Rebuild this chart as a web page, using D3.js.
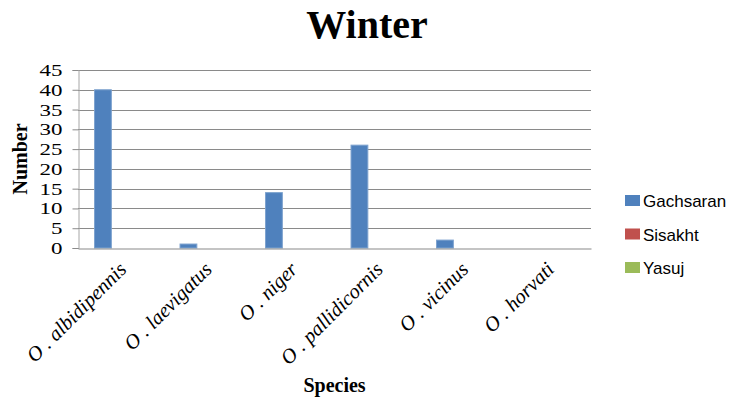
<!DOCTYPE html>
<html>
<head>
<meta charset="utf-8">
<script src="https://cdn.jsdelivr.net/npm/d3@7"></script>
<style>
  html, body { margin: 0; padding: 0; background: #fff; }
  svg { display: block; }
</style>
</head>
<body>
<svg id="chart" width="734" height="399"></svg>
<script>
// Winter counts per species at each site
const species = ["O . albidipennis", "O . laevigatus", "O . niger", "O . pallidicornis", "O . vicinus", "O . horvati"];
const sites = ["Gachsaran", "Sisakht", "Yasuj"];
const gachsaran = [40, 1, 14, 26, 2, 0];
const sisakht = [0, 0, 0, 0, 0, 0];
const yasuj = [0, 0, 0, 0, 0, 0];
const yTicks = [0, 5, 10, 15, 20, 25, 30, 35, 40, 45];
const siteColors = ["#4F81BD", "#C0504D", "#9BBB59"];
const siteStrokes = ["#7DA2CE", "#D27D7A", "#B5CE85"];

const seriesValues = [gachsaran, sisakht, yasuj];
const rows = species.map((s, i) => ({
  species: s,
  values: sites.map((site, j) => ({ site, idx: j, value: seriesValues[j][i] }))
}));

const svg = d3.select("#chart");
const plot = { left: 78, right: 591, top: 70, bottom: 248 };

const x = d3.scaleBand().domain(species).range([plot.left, plot.right]).paddingInner(0).paddingOuter(0);
const xSite = d3.scaleBand().domain(sites).range([0, x.bandwidth()]).paddingInner(0).paddingOuter(0.9);
const y = d3.scaleLinear().domain([0, 45]).range([plot.bottom, plot.top]);

const serif = "'Liberation Serif', 'Times New Roman', serif";
const sans = "'Liberation Sans', Arial, sans-serif";

// Title
svg.append("text")
  .attr("x", 367).attr("y", 38)
  .attr("text-anchor", "middle")
  .attr("font-family", serif).attr("font-weight", "bold").attr("font-size", 40)
  .text("Winter");

// Horizontal gridlines
svg.append("g")
  .selectAll("line")
  .data(yTicks.filter(d => d > 0))
  .join("line")
  .attr("x1", plot.left).attr("x2", plot.right)
  .attr("y1", d => Math.round(y(d)) + 0.5).attr("y2", d => Math.round(y(d)) + 0.5)
  .attr("stroke", "#8A8A8A").attr("stroke-width", 1.2);

// Y axis; the digits are drawn slightly widened
const yAxis = svg.append("g")
  .attr("transform", `translate(${plot.left + 0.5},0)`)
  .call(d3.axisLeft(y).tickValues(yTicks).tickSize(6).tickPadding(0).tickFormat(d3.format("d")));
yAxis.select(".domain").attr("stroke", "#A6A6A6");
yAxis.selectAll(".tick line").attr("stroke", "#8A8A8A");
yAxis.selectAll(".tick text")
  .attr("font-family", serif).attr("font-size", 17).attr("fill", "#000")
  .attr("x", 0)
  .attr("transform", "translate(-16,0) scale(1.35,1)");

// Bars
const groups = svg.append("g")
  .selectAll("g")
  .data(rows)
  .join("g")
  .attr("transform", d => `translate(${x(d.species)},0)`);

groups.selectAll("rect")
  .data(d => d.values.filter(v => v.value > 0))
  .join("rect")
  .attr("x", v => xSite(v.site) + 0.5)
  .attr("y", v => y(v.value))
  .attr("width", xSite.bandwidth() - 1)
  .attr("height", v => y(0) - y(v.value))
  .attr("fill", v => siteColors[v.idx])
  .attr("stroke", v => siteStrokes[v.idx])
  .attr("stroke-width", 1);

// X axis
const xAxis = svg.append("g")
  .attr("transform", `translate(0,${plot.bottom + 0.5})`)
  .call(d3.axisBottom(x).tickSize(0).tickPadding(0));
xAxis.select(".domain").attr("stroke", "#8A8A8A").attr("stroke-width", 1.2);
xAxis.selectAll(".tick text")
  .attr("font-family", serif).attr("font-style", "italic").attr("font-size", 20.5).attr("fill", "#000")
  .attr("text-anchor", "end")
  .attr("y", 0)
  .attr("dy", 0)
  .attr("transform", "translate(7,22) rotate(-45)");

// Axis titles
svg.append("text")
  .attr("transform", "translate(27,159) rotate(-90)")
  .attr("text-anchor", "middle")
  .attr("font-family", serif).attr("font-weight", "bold").attr("font-size", 20)
  .text("Number");

svg.append("text")
  .attr("x", (plot.left + plot.right) / 2).attr("y", 392)
  .attr("text-anchor", "middle")
  .attr("font-family", serif).attr("font-weight", "bold").attr("font-size", 20)
  .text("Species");

// Legend
const legend = svg.append("g")
  .selectAll("g")
  .data(sites)
  .join("g")
  .attr("transform", (d, i) => `translate(625,${201 + i * 33.5})`);
legend.append("rect")
  .attr("x", 0).attr("y", -6).attr("width", 15).attr("height", 11)
  .attr("fill", (d, i) => siteColors[i]);
legend.append("text")
  .attr("x", 18).attr("y", 6)
  .attr("font-family", sans).attr("font-size", 17).attr("fill", "#000")
  .text(d => d);
</script>
</body>
</html>
